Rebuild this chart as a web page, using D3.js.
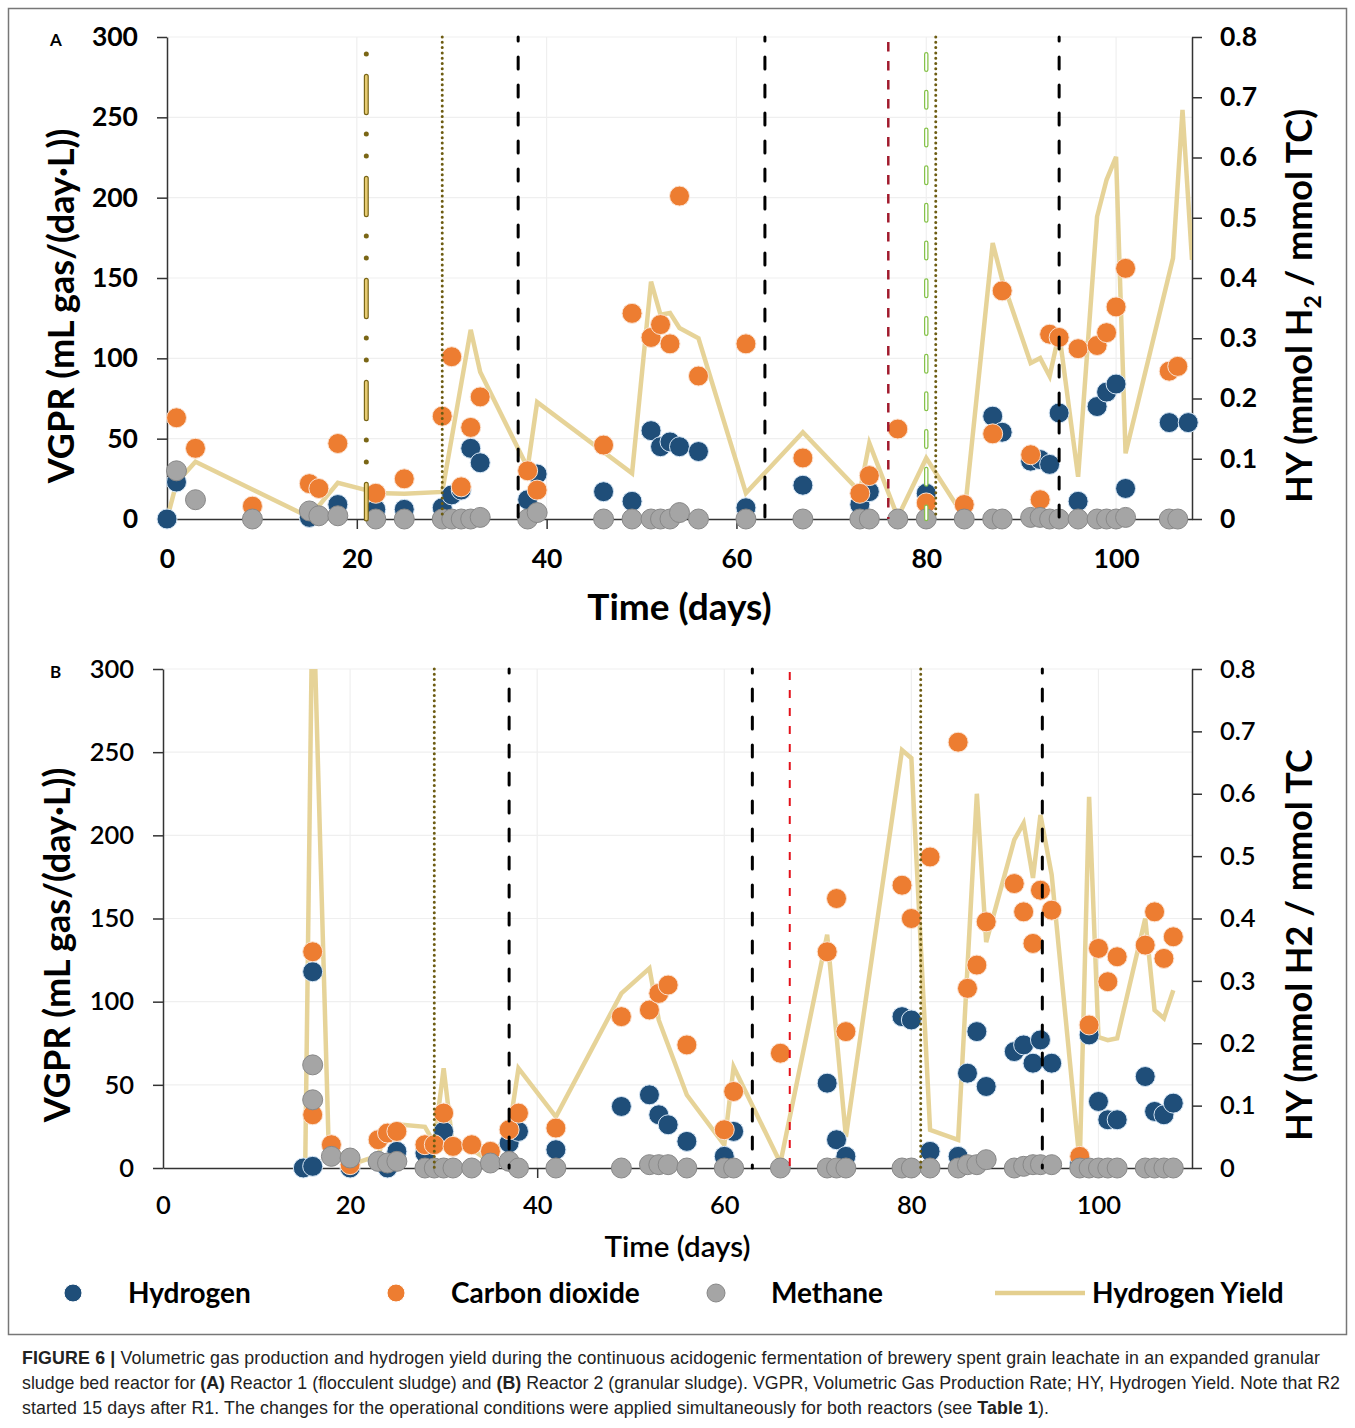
<!DOCTYPE html>
<html>
<head>
<meta charset="utf-8">
<script src="https://cdn.jsdelivr.net/npm/d3@7"></script>
<style>
  body { margin: 0; background: #fff; }
  svg text { font-family: Lato, "Open Sans", sans-serif; fill: #000; }
  svg text.cap { font-family: "Liberation Sans", Arial, sans-serif; font-size: 17.8px; fill: #222; }
</style>
</head>
<body>
<svg id="fig" width="1355" height="1428"></svg>
<script>
// ---- Reactor 1 (panel A): [day, value] ----
const r1Hydrogen = [[0,0],[1,23],[15,1],[18,9],[22,6],[25,6],[29,7],[30,15],[31,18],[32,44],[33,35],[38,12],[39,28],[46,17],[49,11],[51,55],[52,45],[53,48],[54,45],[56,42],[61,7],[67,21],[73,9],[74,17],[80,16],[87,64],[88,54],[91,36],[92,37],[93,34],[94,66],[96,11],[98,70],[99,79],[100,84],[101,19],[105.6,60],[107.6,60]];
const r1CO2 = [[1,63],[3,44],[9,8],[15,22],[16,19],[18,47],[22,16],[25,25],[29,64],[30,101],[31,20],[32,57],[33,76],[38,30],[39,18],[46,46],[49,128],[51,113],[52,121],[53,109],[54,201],[56,89],[61,109],[67,38],[73,16],[74,27],[77,56],[80,10],[84,9],[87,53],[88,142],[91,40],[92,12],[93,115],[94,113],[96,106],[98,108],[99,116],[100,132],[101,156],[105.6,92],[106.5,95]];
const r1Methane = [[1,30],[3,12],[9,0],[15,5],[16,2],[18,2],[22,0],[25,0],[29,0],[30,0],[31,0],[32,0],[33,1],[38,0],[39,4],[46,0],[49,0],[51,0],[52,0],[53,0],[54,4],[56,0],[61,0],[67,0],[73,0],[74,0],[77,0],[80,0],[84,0],[87,0],[88,0],[91,1],[92,1],[93,0],[94,0],[96,0],[98,0],[99,0],[100,0],[101,1],[105.6,0],[106.5,0]];
const r1Yield = [[0,0],[1,0.06],[3,0.095],[15,0.003],[18,0.06],[21,0.048],[22,0.043],[25,0.042],[29,0.045],[32,0.314],[33,0.244],[38,0.085],[39,0.194],[49,0.076],[51,0.394],[52,0.339],[53,0.342],[54,0.317],[56,0.3],[61,0.043],[67,0.144],[73,0.045],[74,0.126],[77,0.003],[80,0.101],[84,0.003],[87,0.458],[88,0.397],[91,0.259],[92,0.267],[93,0.237],[94,0.309],[96,0.07],[98,0.502],[99,0.563],[100,0.601],[101,0.109],[106,0.433],[107,0.679],[108,0.43]];
const r1Events = [[21,"goldDash"],[29,"dotted"],[37,"dashed"],[63,"dashed"],[76,"darkRed"],[80,"green"],[81,"dotted"],[94,"dashed"]];

// ---- Reactor 2 (panel B) ----
const r2Hydrogen = [[15,0],[16,1],[16,118],[20,0],[23,4],[24,0],[25,10],[28,9],[30,22],[37,15],[38,22],[42,11],[49,37],[52,44],[53,32],[54,26],[56,16],[60,7],[61,22],[71,51],[72,17],[73,7],[79,91],[80,89],[82,10],[85,7],[86,57],[87,82],[88,49],[91,70],[92,74],[93,63],[93.8,77],[95,63],[98,3],[99,80],[100,40],[101,29],[102,29],[105,55],[106,34],[107,32],[108,39]];
const r2CO2 = [[16,32],[16,130],[18,14],[20,2],[23,17],[24,21],[25,22],[28,14],[29,14],[30,33],[31,13],[33,14],[35,10],[37,23],[38,33],[42,24],[49,91],[52,95],[53,105],[54,110],[56,74],[60,23],[61,46],[66,69],[71,130],[72,162],[73,82],[79,170],[80,150],[82,187],[85,256],[86,108],[87,122],[88,148],[91,171],[92,154],[93,135],[93.8,167],[95,155],[98,7],[99,86],[100,132],[101,112],[102,127],[105,134],[106,154],[107,126],[108,139]];
const r2Methane = [[16,62],[16,41],[18,7],[20,6],[23,4],[24,3],[25,4],[28,0],[29,0],[30,0],[31,0],[33,0],[35,3],[37,4],[38,0],[42,0],[49,0],[52,2],[53,2],[54,2],[56,0],[60,0],[61,0],[66,0],[71,0],[72,0],[73,0],[79,0],[80,0],[82,0],[85,0],[86,2],[87,2],[88,5],[91,0],[92,1],[93,2],[93.8,2],[95,2],[98,0],[99,0],[100,0],[101,0],[102,0],[105,0],[106,0],[107,0],[108,0]];
const r2Yield = [[15.2,0],[16,0.95],[17.7,0.04],[20,0.005],[23,0.02],[24,0.065],[25,0.07],[28,0.066],[29,0.04],[30,0.16],[31,0.034],[33,0.03],[35,0.01],[37,0.06],[38,0.16],[42,0.082],[49,0.28],[52,0.32],[53,0.237],[56,0.117],[60,0.037],[61,0.162],[66,0.008],[71,0.374],[73,0.05],[79,0.67],[80,0.657],[82,0.061],[85,0.045],[87,0.6],[88,0.362],[91,0.526],[92,0.553],[93,0.465],[93.8,0.566],[95,0.47],[98,0.008],[99,0.595],[100,0.21],[101,0.205],[102,0.208],[105,0.4],[106,0.253],[107,0.24],[108,0.285]];
const r2Events = [[29,"dotted"],[37,"dashed"],[63,"dashed"],[67,"red"],[81,"dotted"],[94,"dashed"]];

const vgprTicks = [0,50,100,150,200,250,300];
const hyTicks = [0,0.1,0.2,0.3,0.4,0.5,0.6,0.7,0.8];
const dayTicks = [0,20,40,60,80,100];
const legendItems = ["Hydrogen","Carbon dioxide","Methane","Hydrogen Yield"];

const col = { h2: "#1f4e79", co2: "#ed7d31", ch4: "#a5a5a5", hy: "#e4cf8f" };

const svg = d3.select("#fig");

// frame
svg.append("rect").attr("x", 8.5).attr("y", 8.5).attr("width", 1338).attr("height", 1326)
  .attr("fill", "none").attr("stroke", "#777").attr("stroke-width", 1.5);

// vertical event line styles (strokes layered)
const styles = {
  dotted:  [{ c: "#6d5c12", w: 3, da: "0,5.3", cap: "round", off: 0 }],
  dashed:  [{ c: "#000", w: 3, da: "12,16", cap: "round", off: 8 }],
  darkRed: [{ c: "#a11b2d", w: 2.5, da: "9.5,9.5", cap: "butt", off: -5 }],
  red:     [{ c: "#e3121b", w: 2, da: "8,10", cap: "butt", off: -3 }],
  green:   [{ c: "#86c24a", w: 4.5, da: "15.5,22.2", cap: "round", off: 20.4 },
            { c: "#fff", w: 2, da: "15.5,22.2", cap: "round", off: 20.4 }],
  goldDash:[{ c: "#7a6616", w: 5, da: "0,22,0,22.25,36.5,21.25", cap: "round", off: 5 },
            { c: "#e6cb72", w: 2.6, da: "36.5,65.5", cap: "round", off: 62.75 }]
};

function drawPanel(p) {
  const x = d3.scaleLinear().domain([0, p.xMax]).range([p.left, p.right]);
  const y = d3.scaleLinear().domain([0, 300]).range([p.bottom, p.top]);
  const y2 = d3.scaleLinear().domain([0, 0.8]).range([p.bottom, p.top]);
  const g = svg.append("g");

  // grid
  g.append("g").selectAll("line").data(vgprTicks.slice(1)).join("line")
    .attr("x1", p.left).attr("x2", p.right)
    .attr("y1", d => y(d)).attr("y2", d => y(d))
    .attr("stroke", "#efefef").attr("stroke-width", 1.2);
  g.append("g").selectAll("line").data(dayTicks.slice(1)).join("line")
    .attr("x1", d => x(d)).attr("x2", d => x(d))
    .attr("y1", p.top).attr("y2", p.bottom)
    .attr("stroke", "#efefef").attr("stroke-width", 1.2);

  // axes
  const fw = p.tickWeight;
  const ax = g.append("g").attr("transform", `translate(0,${p.bottom})`)
    .call(d3.axisBottom(x).tickValues(dayTicks).tickSize(10).tickSizeOuter(0).tickPadding(p.xPad));
  const ayl = g.append("g").attr("transform", `translate(${p.left},0)`)
    .call(d3.axisLeft(y).tickValues(vgprTicks).tickSize(10).tickSizeOuter(0).tickPadding(19));
  const ayr = g.append("g").attr("transform", `translate(${p.right},0)`)
    .call(d3.axisRight(y2).tickValues(hyTicks).tickSize(10).tickSizeOuter(0).tickPadding(18)
      .tickFormat(d => d === 0 ? "0" : d3.format(".1f")(d)));
  [ax, ayl, ayr].forEach(a => {
    a.attr("font-family", null).attr("font-size", p.tickSize);
    a.selectAll("text").attr("font-weight", fw);
    a.selectAll("path,line").attr("stroke", "#333").attr("stroke-width", 1.5);
  });
  ax.select(".tick line").attr("opacity", 0); // day 0 tick sits on the y axis

  // clip
  const cid = "clip" + p.name;
  svg.append("clipPath").attr("id", cid).append("rect")
    .attr("x", p.left).attr("y", p.top).attr("width", p.right - p.left).attr("height", p.bottom - p.top);
  const plot = g.append("g").attr("clip-path", `url(#${cid})`);

  // scatter series
  const series = [[p.h2, col.h2, "#d6e6f5"], [p.co2, col.co2, "#fbe3d2"], [p.ch4, col.ch4, "#888"]];
  series.forEach(([data, c, s]) => {
    g.append("g").selectAll("circle").data(data).join("circle")
      .attr("cx", d => x(d[0])).attr("cy", d => y(d[1])).attr("r", 10)
      .attr("fill", c).attr("stroke", s).attr("stroke-width", 1);
  });

  // hydrogen yield
  plot.append("path").datum(p.hy)
    .attr("fill", "none").attr("stroke", col.hy).attr("stroke-width", 4.5)
    .attr("stroke-linejoin", "miter").attr("opacity", 0.92)
    .attr("d", d3.line().x(d => x(d[0])).y(d => y2(d[1])));

  // event lines
  p.events.forEach(([day, st]) => {
    styles[st].forEach(s => {
      g.append("line").attr("x1", x(day)).attr("x2", x(day))
        .attr("y1", p.top).attr("y2", p.bottom)
        .attr("stroke", s.c).attr("stroke-width", s.w)
        .attr("stroke-dasharray", s.da).attr("stroke-dashoffset", s.off)
        .attr("stroke-linecap", s.cap);
    });
  });

  // titles
  g.append("text").attr("transform", `translate(${p.left - 93},${p.titleMid}) rotate(-90)`)
    .attr("text-anchor", "middle").attr("font-size", 36).attr("font-weight", 700)
    .text("VGPR (mL gas/(day·L))");
  const rt = g.append("text").attr("transform", `translate(${p.right + 120},${p.titleMid}) rotate(-90)`)
    .attr("text-anchor", "middle").attr("font-size", 36).attr("font-weight", 700);
  p.rightTitle(rt);
  g.append("text").attr("x", (p.left + p.right) / 2).attr("y", p.bottom + p.xTitleDy)
    .attr("text-anchor", "middle").attr("font-size", p.xTitleSize).attr("font-weight", p.xTitleWeight)
    .text("Time (days)");
  g.append("text").attr("x", 50).attr("y", p.top + 9).attr("font-size", 17).attr("font-weight", 700)
    .attr("font-family", "Liberation Sans, Arial, sans-serif").text(p.name);
}

drawPanel({
  name: "A", xMax: 108, left: 167, right: 1192, top: 37, bottom: 519, titleMid: 306,
  h2: r1Hydrogen, co2: r1CO2, ch4: r1Methane, hy: r1Yield, events: r1Events,
  tickSize: 26.5, tickWeight: 700, xPad: 20, xTitleDy: 101, xTitleSize: 37, xTitleWeight: 700,
  rightTitle: t => {
    t.append("tspan").text("HY (mmol H");
    t.append("tspan").attr("font-size", 23).attr("dy", 9).text("2");
    t.append("tspan").attr("dy", -9).text(" / mmol TC)");
  }
});
drawPanel({
  name: "B", xMax: 110, left: 163, right: 1192, top: 669, bottom: 1168, titleMid: 945,
  h2: r2Hydrogen, co2: r2CO2, ch4: r2Methane, hy: r2Yield, events: r2Events,
  tickSize: 25.5, tickWeight: 600, xPad: 18, xTitleDy: 89, xTitleSize: 29.5, xTitleWeight: 600,
  rightTitle: t => t.text("HY (mmol H2 / mmol TC")
});

// legend
const lg = svg.append("g").attr("transform", "translate(0,1293)");
const legendX = [73, 396, 716, 995];
const legendCols = [col.h2, col.co2, col.ch4, col.hy];
legendItems.forEach((name, i) => {
  if (i < 3) {
    lg.append("circle").attr("cx", legendX[i]).attr("r", 9).attr("fill", legendCols[i])
      .attr("stroke", i === 2 ? "#888" : "#fff").attr("stroke-width", 1);
    lg.append("text").attr("x", legendX[i] + 55).attr("y", 10).attr("font-size", 28).attr("font-weight", 700).text(name);
  } else {
    lg.append("line").attr("x1", legendX[i]).attr("x2", legendX[i] + 90)
      .attr("stroke", legendCols[i]).attr("stroke-width", 4.5);
    lg.append("text").attr("x", legendX[i] + 97).attr("y", 10).attr("font-size", 28).attr("font-weight", 700).text(name);
  }
});

// caption
const capLines = [
  [["FIGURE 6 | ", 700], ["Volumetric gas production and hydrogen yield during the continuous acidogenic fermentation of brewery spent grain leachate in an expanded granular", 400]],
  [["sludge bed reactor for ", 400], ["(A)", 700], [" Reactor 1 (flocculent sludge) and ", 400], ["(B)", 700], [" Reactor 2 (granular sludge). VGPR, Volumetric Gas Production Rate; HY, Hydrogen Yield. Note that R2", 400]],
  [["started 15 days after R1. The changes for the operational conditions were applied simultaneously for both reactors (see ", 400], ["Table 1", 700], [").", 400]]
];
const capWidths = [1298, 1318, 1027];
capLines.forEach((parts, i) => {
  const t = svg.append("text").attr("class", "cap").attr("x", 22).attr("y", 1364 + i * 25)
    .attr("textLength", capWidths[i]).attr("lengthAdjust", "spacing");
  parts.forEach(([s, w]) => t.append("tspan").attr("font-weight", w).text(s));
});
</script>
</body>
</html>
